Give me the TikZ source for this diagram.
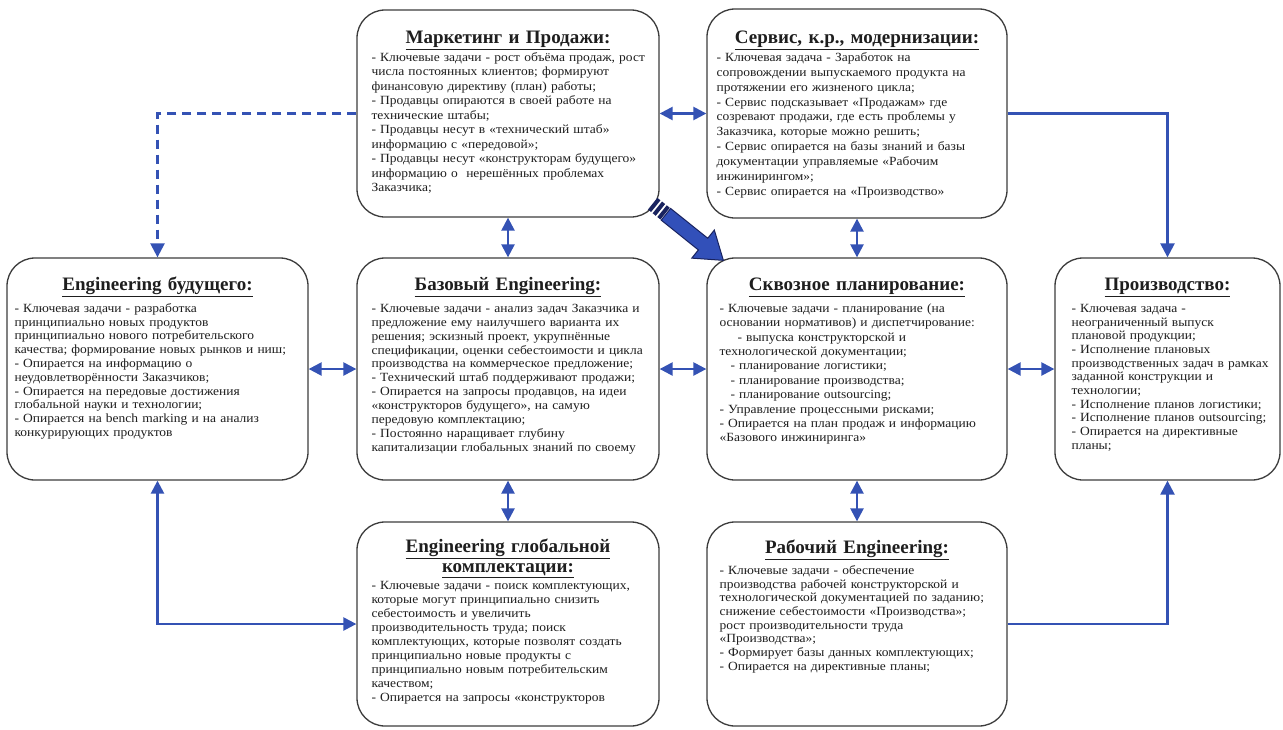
\documentclass[tikz,border=0pt]{standalone}
\usepackage{fontspec}
\setmainfont{Liberation Serif}
\newfontfamily\bodyfont[FakeStretch=1.08]{Liberation Serif}
\usetikzlibrary{arrows.meta,calc}
\definecolor{arrowblue}{RGB}{52,82,180}
\definecolor{fatblue}{RGB}{50,80,185}
\definecolor{navyblue}{RGB}{25,35,95}
\definecolor{boxline}{RGB}{60,60,60}
\definecolor{txt}{RGB}{30,30,30}
\tikzset{
  card/.style={draw=boxline, line width=1.3pt, rounded corners=28pt, inner sep=0pt, fill=white},
  ttl/.style={font=\fontsize{19}{21}\selectfont\bfseries, text=txt, anchor=base, inner sep=0pt, text width=300pt, align=center},
  bodytxt/.style={font=\bodyfont\fontsize{12.5}{#1}\selectfont, text=txt, anchor=base west, inner sep=0pt, text width=292pt, align=left},
  bodytxt/.default=14pt,
  conn/.style={draw=arrowblue, line width=2.4pt},
  biarrow/.style={conn, {Triangle[length=13pt,width=13pt]}-{Triangle[length=13pt,width=13pt]}},
  onearrow/.style={conn, -{Triangle[length=14pt,width=14pt]}},
}
\begin{document}
\begin{tikzpicture}[x=1pt,y=-1pt]
\useasboundingbox[fill=white] (0,0) rectangle (1283,729);

% boxes
\node[card, minimum width=302pt, minimum height=207pt] (m) at (508,113.5) {};
\node[card, minimum width=300pt, minimum height=209pt] (s) at (857,113.5) {};
\node[card, minimum width=301pt, minimum height=222pt] (f) at (157.5,369) {};
\node[card, minimum width=302pt, minimum height=222pt] (b) at (508,369) {};
\node[card, minimum width=300pt, minimum height=222pt] (q) at (857,369) {};
\node[card, minimum width=225pt, minimum height=222pt] (p) at (1167.5,369) {};
\node[card, minimum width=302pt, minimum height=204pt] (g) at (508,624) {};
\node[card, minimum width=300pt, minimum height=204pt] (r) at (857,624) {};

% titles
\node[ttl] (mt) at ($(m.north)+(0,34)$) {\underline{Маркетинг и Продажи:}};
\node[ttl] (st) at ($(s.north)+(0,35)$) {\underline{Сервис, к.р., модернизации:}};
\node[ttl] (ft) at ($(f.north)+(0,33)$) {\underline{Engineering будущего:}};
\node[ttl] (bt) at ($(b.north)+(0,33)$) {\underline{Базовый Engineering:}};
\node[ttl] (qt) at ($(q.north)+(0,33)$) {\underline{Сквозное планирование:}};
\node[ttl] (pt) at ($(p.north)+(0,33)$) {\underline{Производство:}};
\node[ttl] (gt) at ($(g.north)+(0,31)$) {\underline{Engineering глобальной}\\[-1pt]\underline{комплектации:}};
\node[ttl] (rt) at ($(r.north)+(0,32)$) {\underline{Рабочий Engineering:}};

% bodies
\node[bodytxt=14.5pt] (mb) at ($(m.north west)+(15,52)$) {- Ключевые задачи - рост объёма продаж, рост\\
числа постоянных клиентов; формируют\\
финансовую директиву (план) работы;\\
- Продавцы опираются в своей работе на\\
технические штабы;\\
- Продавцы несут в «технический штаб»\\
информацию с «передовой»;\\
- Продавцы несут «конструкторам будущего»\\
информацию о~ нерешённых проблемах\\
Заказчика;};

\node[bodytxt=14.9pt] (sb) at ($(s.north west)+(10,53)$) {- Ключевая задача - Заработок на\\
сопровождении выпускаемого продукта на\\
протяжении его жизненого цикла;\\
- Сервис подсказывает «Продажам» где\\
созревают продажи, где есть проблемы у\\
Заказчика, которые можно решить;\\
- Сервис опирается на базы знаний и базы\\
документации управляемые «Рабочим\\
инжинирингом»;\\
- Сервис опирается на «Производство»};

\node[bodytxt=13.8pt] (fb) at ($(f.north west)+(8,55)$) {- Ключевая задачи - разработка\\
принципиально новых продуктов\\
принципиально нового потребительского\\
качества; формирование новых рынков и ниш;\\
- Опирается на информацию о\\
неудовлетворённости Заказчиков;\\
- Опирается на передовые достижения\\
глобальной науки и технологии;\\
- Опирается на bench marking и на анализ\\
конкурирующих продуктов};

\node[bodytxt=13.9pt] (bb) at ($(b.north west)+(15,55)$) {- Ключевые задачи - анализ задач Заказчика и\\
предложение ему наилучшего варианта их\\
решения; эскизный проект, укрупнённые\\
спецификации, оценки себестоимости и цикла\\
производства на коммерческое предложение;\\
- Технический штаб поддерживают продажи;\\
- Опирается на запросы продавцов, на идеи\\
«конструкторов будущего», на самую\\
передовую комплектацию;\\
- Постоянно наращивает глубину\\
капитализации глобальных знаний по своему};

\node[bodytxt=14.4pt] (qb) at ($(q.north west)+(13,55)$) {- Ключевые задачи - планирование (на\\
основании нормативов) и диспетчирование:\\
\hspace*{18pt}- выпуска конструкторской и\\
технологической документации;\\
\hspace*{11pt}- планирование логистики;\\
\hspace*{11pt}- планирование производства;\\
\hspace*{11pt}- планирование outsourcing;\\
- Управление процессными рисками;\\
- Опирается на план продаж и информацию\\
«Базового инжиниринга»};

\node[bodytxt=13.7pt] (pb) at ($(p.north west)+(17,55)$) {- Ключевая задача -\\
неограниченный выпуск\\
плановой продукции;\\
- Исполнение плановых\\
производственных задач в рамках\\
заданной конструкции и\\
технологии;\\
- Исполнение планов логистики;\\
- Исполнение планов outsourcing;\\
- Опирается на директивные\\
планы;};

\node[bodytxt=14pt] (gb) at ($(g.north west)+(15,68)$) {- Ключевые задачи - поиск комплектующих,\\
которые могут принципиально снизить\\
себестоимость и увеличить\\
производительность труда; поиск\\
комплектующих, которые позволят создать\\
принципиально новые продукты с\\
принципиально новым потребительским\\
качеством;\\
- Опирается на запросы «конструкторов};

\node[bodytxt=13.7pt] (rb) at ($(r.north west)+(13,53)$) {- Ключевые задачи - обеспечение\\
производства рабочей конструкторской и\\
технологической документацией по заданию;\\
снижение себестоимости «Производства»;\\
рост производительности труда\\
«Производства»;\\
- Формирует базы данных комплектующих;\\
- Опирается на директивные планы;};

% connectors
\draw[onearrow, dash pattern=on 9pt off 6pt] (m.west) -| (f.north);
\draw[biarrow] (m.east) -- (s.west);
\draw[onearrow] (s.east) -| (p.north);
\draw[biarrow] (m.south) -- (b.north);
\draw[biarrow] (s.south) -- (q.north);
\draw[biarrow] (f.east) -- (b.west);
\draw[biarrow] (b.east) -- (q.west);
\draw[biarrow] (q.east) -- (p.west);
\draw[biarrow] (b.south) -- (g.north);
\draw[biarrow] (q.south) -- (r.north);
\draw[biarrow] (f.south) |- (g.west);
\draw[onearrow] (r.east) -| (p.south);

% fat arrow (from Marketing to planning)
\coordinate (fa1) at ($(m.south east)+(-7,-14)$);
\coordinate (fa2) at ($(q.north west)+(17,3)$);
\coordinate (a0) at ($(fa1)!17pt!(fa2)$);
\coordinate (a1) at ($(fa2)!26pt!(fa1)$);
\draw[line width=15pt, draw=navyblue, dash pattern=on 4pt off 2pt on 4pt off 2pt on 4pt off 300pt] (fa1) -- ($(fa1)!16pt!(fa2)$);
\filldraw[fill=fatblue, draw=navyblue, line width=1pt, line join=miter]
  ($(a0)!7.5pt!90:(fa2)$) -- ($(a1)!7.5pt!-90:(fa1)$) -- ($(a1)!18pt!-90:(fa1)$) -- (fa2)
  -- ($(a1)!18pt!90:(fa1)$) -- ($(a1)!7.5pt!90:(fa1)$) -- ($(a0)!7.5pt!-90:(fa2)$) -- cycle;
\end{tikzpicture}
\end{document}
